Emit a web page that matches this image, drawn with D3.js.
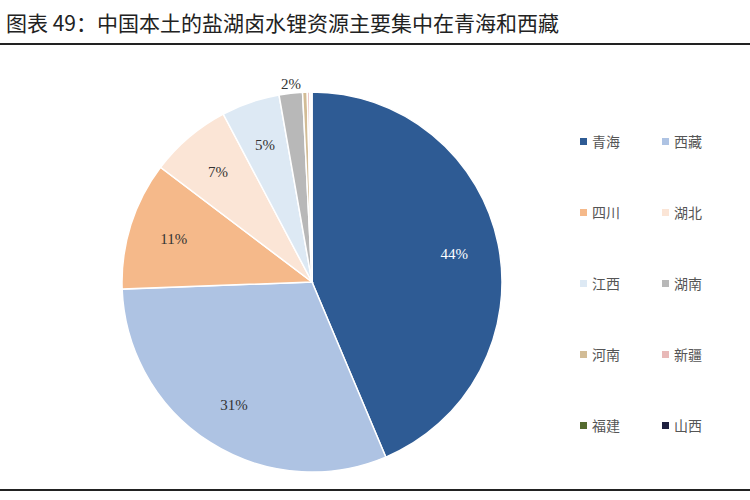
<!DOCTYPE html>
<html><head><meta charset="utf-8">
<script src="https://cdn.jsdelivr.net/npm/d3@7"></script>
<style>body{margin:0;background:#fff;font-family:"Noto Sans CJK SC",sans-serif}</style>
</head><body>
<script>
const provinces = ["青海","西藏","四川","湖北","江西","湖南","河南","新疆","福建","山西"];
const shares = [44, 31, 11, 7, 5, 2, 0.4, 0.2, 0.1, 0.1];
const labels = ["44%","31%","11%","7%","5%","2%","","","",""];
const colors = ["#2e5b94","#aec3e3","#f5b98a","#fbe5d6","#dde9f4","#b8b8b8","#d2bc96","#e8b9b8","#556b2f","#1f2140"];

const svg = d3.select("body").append("svg").attr("width",750).attr("height",500);
svg.append("text").attr("x",6).attr("y",31).attr("font-size",21).attr("fill","#222")
  .text("图表 49：中国本土的盐湖卤水锂资源主要集中在青海和西藏");
svg.append("line").attr("x1",0).attr("x2",750).attr("y1",44).attr("y2",44).attr("stroke","#222").attr("stroke-width",2);
svg.append("line").attr("x1",0).attr("x2",750).attr("y1",490).attr("y2",490).attr("stroke","#222").attr("stroke-width",2);

const pie = d3.pie().sort(null).value(d=>d)(shares);
const arc = d3.arc().innerRadius(0).outerRadius(190);
const labelArc = d3.arc().innerRadius(145).outerRadius(145);
const g = svg.append("g").attr("transform","translate(312,282)");
g.selectAll("path").data(pie).join("path").attr("d",arc)
  .attr("fill",(d,i)=>colors[i]).attr("stroke","#fff").attr("stroke-width",1.5);
const lab = svg.append("g").attr("transform","translate(312,282)");
lab.selectAll("text").data(pie).join("text")
  .attr("transform",(d,i)=>{
    if(i===5) return "translate(-21,-198)";
    const c = labelArc.centroid(d); return `translate(${c[0]},${c[1]})`;})
  .attr("text-anchor","middle").attr("dy","0.35em").attr("font-size",15)
  .attr("font-family","Liberation Serif, serif")
  .attr("fill",(d,i)=>i===0?"#fff":"#333").text((d,i)=>labels[i]);

const leg = svg.append("g");
provinces.forEach((p,i)=>{
  const x = 580 + (i%2)*82, y = 142 + Math.floor(i/2)*71;
  leg.append("rect").attr("x",x).attr("y",y-4).attr("width",7).attr("height",7).attr("fill",colors[i]);
  leg.append("text").attr("x",x+12).attr("y",y).attr("dy","0.35em").attr("font-size",14).attr("fill","#555").text(p);
});
</script>
</body></html>
